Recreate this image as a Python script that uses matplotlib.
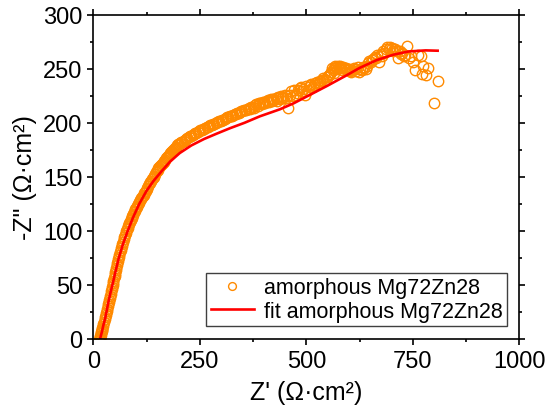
import matplotlib
matplotlib.use("Agg")
import matplotlib.pyplot as plt
from matplotlib.ticker import MultipleLocator

plt.rcParams['font.family'] = ['Liberation Sans', 'DejaVu Sans']

measured = [
    (14, -1), (15, 0), (15.5, 1), (16, 2), (17, 3), (17.5, 4), (18, 5), (19, 6), (19.5, 7),
    (20, 8), (21, 9), (21.5, 10), (23, 12), (24, 14), (25, 16), (26.5, 18), (27.5, 20),
    (29, 22), (30, 24), (31.5, 26), (33, 28), (34, 30), (35, 32), (36.5, 34), (37.5, 36),
    (39, 38), (40, 40), (41, 42), (42, 44), (43.5, 46), (44.5, 48), (45.5, 50), (46.5, 52),
    (47.5, 54), (48.5, 56), (50, 58), (51, 60), (52, 62), (53, 64), (54, 66), (55, 68),
    (56, 70), (57.5, 72), (59, 74), (60, 76), (61.5, 78), (63, 80), (64.5, 82), (66, 84),
    (67, 86), (68.5, 88), (70, 90), (71.5, 92), (73, 94), (75, 96), (76.5, 98), (78, 100),
    (79.5, 101.5), (81, 103), (82.5, 104.5), (84, 106), (85, 107), (86.5, 108.5), (88, 110),
    (89, 111), (90, 112), (91.5, 113.5), (93, 115), (94, 116), (95.5, 117), (97, 118.5),
    (99, 120), (100, 121), (101.5, 122), (103, 123), (105, 125), (106.5, 126), (108, 127),
    (110, 128.5), (111.5, 129.5), (113, 130), (114.5, 131), (116, 132.5), (118, 133.5),
    (120, 135), (121.5, 136), (123, 137), (125, 138.5), (127, 140), (129, 141.5), (131, 143),
    (132.5, 144), (134, 145), (136, 146.5), (138, 148), (140, 149), (141.5, 150), (143, 151),
    (145, 152.5), (147, 154), (149, 155), (151, 156.5), (153, 158), (155, 159), (157, 160),
    (159, 161), (161, 162), (163, 163), (165, 164), (167, 165), (169, 166), (171, 167),
    (173, 168), (175, 169), (177, 170), (179, 171), (181, 172), (183, 173), (185, 174),
    (187, 175), (189, 176), (191, 176.5), (193, 177), (195, 178), (197, 179), (199, 180),
    (201, 180.5), (203, 181), (206, 182), (209, 182.5), (212, 183.5), (215, 184), (218, 185),
    (221, 186), (224, 187), (227, 187.5), (230, 188), (233, 189), (236, 189.5), (239, 190.5),
    (242, 191), (245, 191.5), (248, 192), (251, 193), (254, 193.5), (257, 194), (260, 194.5),
    (263, 195), (266, 196), (269, 196.5), (272, 197), (275, 197.5), (278, 198), (281, 198.5),
    (284, 199), (287, 200), (290, 200.5), (293, 201), (296, 201.5), (299, 202), (302, 202.5),
    (305, 203), (308, 203.5), (311, 204), (314, 205), (317, 205.5), (320, 206), (323, 206),
    (326, 206.5), (329, 207), (332, 208), (335, 208.5), (338, 209), (341, 209.5), (344, 210),
    (347, 210.5), (350, 211), (353, 211.5), (356, 212), (359, 212), (362, 213), (365, 213.5),
    (368, 213), (371, 214.5), (374, 215), (377, 214), (380, 216), (383, 217), (386, 215.5),
    (389, 218), (392, 218.5), (395, 217), (398, 219.5), (401, 219), (404, 218), (407, 220.5),
    (410, 221), (413, 219.5), (416, 222), (419, 220), (422, 222), (425, 221), (428, 223),
    (431, 220.5), (434, 224), (437, 222), (440, 225), (443, 222.5), (446, 224), (449, 226),
    (452, 223), (455, 225), (458, 214), (462, 226), (465, 229), (468, 225), (472, 230),
    (475, 226), (478, 228), (481, 230), (484, 232), (487, 233), (490, 229), (493, 231),
    (496, 226), (500, 234), (503, 230), (506, 233), (509, 235), (512, 236), (515, 233),
    (518, 235), (521, 237), (524, 238), (527, 236), (530, 237), (533, 239), (536, 240),
    (539, 241), (542, 239), (545, 240), (548, 242), (551, 243), (554, 244), (556, 245),
    (558, 247), (560, 251), (562, 249), (564, 246), (566, 251), (568, 253), (570, 252),
    (572, 250), (574, 253), (576, 251), (578, 252), (580, 253), (582, 251), (584, 249),
    (586, 252), (588, 251), (590, 250), (593, 251), (596, 249), (599, 250), (602, 248),
    (605, 247), (608, 249), (611, 251), (614, 250), (617, 248), (620, 252), (624, 247),
    (627, 250), (630, 249), (633, 252), (636, 251), (639, 250), (642, 253), (645, 255),
    (648, 257), (651, 256), (654, 258), (657, 259), (660, 261), (663, 260), (666, 263),
    (670, 256), (674, 264), (677, 262), (680, 266), (683, 265), (686, 268), (690, 270),
    (694, 268), (697, 270), (700, 269), (703, 266), (706, 268), (709, 268), (712, 266),
    (716, 260), (719, 266), (722, 264), (725, 265), (728, 262), (732, 263), (736, 271),
    (740, 260), (746, 262), (750, 256), (755, 249), (762, 263), (768, 262), (771, 245),
    (773, 253), (781, 244), (786, 251), (800, 218), (808, 239),
]

# fitted curve
fit = [
    (16, 0), (20, 6), (24, 13), (28, 19), (31, 25), (35, 33), (40, 42), (45, 50), (52, 62),
    (60, 75), (70, 88), (80, 99), (93, 112), (108, 125), (125, 137), (141, 146), (160, 155),
    (180, 164), (203, 172), (230, 179), (260, 185), (290, 190), (321, 195), (355, 200),
    (391, 206), (420, 210), (438, 212.5), (470, 218), (509, 226), (548, 234), (590, 243),
    (626, 251), (665, 258), (704, 263), (740, 266), (759, 266.5), (780, 267), (808, 266.7),
]

z_re = [p[0] for p in measured]
z_im = [p[1] for p in measured]
fit_re = [p[0] for p in fit]
fit_im = [p[1] for p in fit]

fig = plt.figure(figsize=(5.55, 4.14), dpi=100)
ax = fig.add_axes([0.168, 0.179, 0.768, 0.783])

ax.plot(z_re, z_im, 'o', mfc='none', mec='#ff8a00', ms=7.5, mew=1.0,
        label='amorphous Mg72Zn28')
ax.plot(fit_re, fit_im, color='#ff0000', lw=1.9, label='fit amorphous Mg72Zn28')

ax.set_xlim(0, 1000)
ax.set_ylim(0, 300)
ax.xaxis.set_major_locator(MultipleLocator(250))
ax.xaxis.set_minor_locator(MultipleLocator(125))
ax.yaxis.set_major_locator(MultipleLocator(50))
ax.yaxis.set_minor_locator(MultipleLocator(25))
ax.tick_params(which='both', direction='out', top=True, right=True, width=1.2,
               labelsize=17)
ax.tick_params(which='major', length=4.5)
ax.tick_params(which='minor', length=2.5)
for s in ax.spines.values():
    s.set_linewidth(1.2)

ax.set_xlabel("Z' (Ω·cm²)", fontsize=18, labelpad=6)
ax.set_ylabel('-Z" (Ω·cm²)', fontsize=18, labelpad=4)

leg = ax.legend(loc='lower right', fontsize=15.5, fancybox=False, framealpha=1,
                edgecolor='#404040', borderaxespad=0.6, handlelength=2.0,
                borderpad=0.2, labelspacing=0.12, handletextpad=0.45,
                markerscale=0.75)
leg.get_frame().set_linewidth(1.0)

fig.savefig('out.png', dpi=100)
